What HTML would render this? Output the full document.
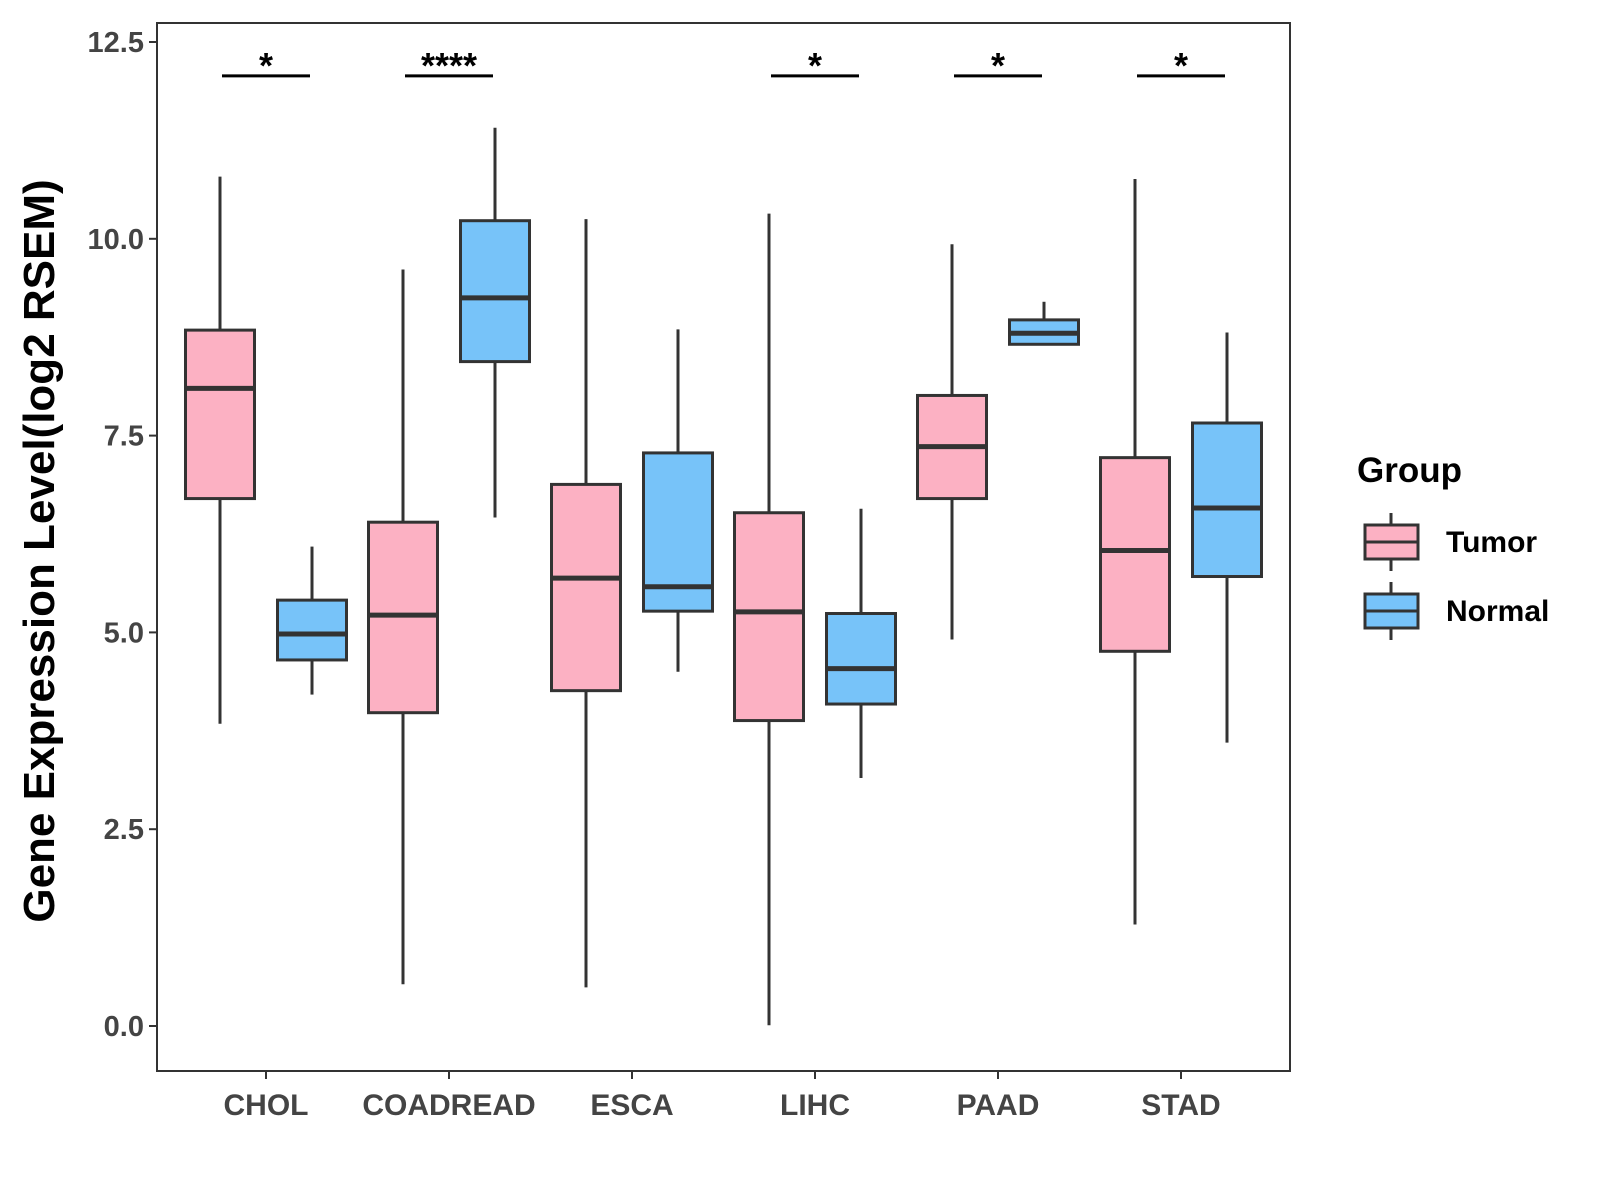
<!DOCTYPE html>
<html><head><meta charset="utf-8"><style>
html,body{margin:0;padding:0;background:#fff;}
svg{display:block;font-family:"Liberation Sans",Arial,sans-serif;}
</style></head><body>
<svg id="chart" width="1600" height="1200" viewBox="0 0 1600 1200" xmlns="http://www.w3.org/2000/svg">
<g id="plot"></g>
</svg>
<script>
const categories = ["CHOL","COADREAD","ESCA","LIHC","PAAD","STAD"];
// [lowWhisker, q1, median, q3, highWhisker]
const tumorStats = [
  [3.84,6.70,8.10,8.84,10.79],
  [0.53,3.98,5.22,6.40,9.61],
  [0.49,4.26,5.69,6.88,10.25],
  [0.01,3.88,5.26,6.52,10.32],
  [4.91,6.70,7.36,8.01,9.93],
  [1.29,4.76,6.04,7.22,10.76]
];
const normalStats = [
  [4.21,4.65,4.98,5.41,6.09],
  [6.46,8.44,9.25,10.23,11.41],
  [4.50,5.27,5.58,7.28,8.85],
  [3.15,4.09,4.54,5.24,6.57],
  [8.66,8.66,8.80,8.97,9.20],
  [3.60,5.71,6.58,7.66,8.81]
];
const sigLabels = ["*","****","","*","*","*"];
const sigValue = 12.07;
const yTicks = [0,2.5,5,7.5,10,12.5];
const yTickLabels = ["0.0","2.5","5.0","7.5","10.0","12.5"];

const NS="http://www.w3.org/2000/svg";
const L=157,T=23,R=1290,B=1071;
const y=v=>1026-v*78.72;
const x=i=>266+i*183;
const g=document.getElementById('plot');
function mk(tag,attrs,parent){const e=document.createElementNS(NS,tag);for(const k in attrs)e.setAttribute(k,attrs[k]);(parent||g).appendChild(e);return e;}

const frame=mk('rect',{x:L,y:T,width:R-L,height:B-T,fill:'none',stroke:'#333',"stroke-width":2});



yTicks.forEach((v,i)=>{
  const t=mk('line',{x1:L-8,x2:L,y1:y(v),y2:y(v),stroke:'#333',"stroke-width":2});
  
  
  const lb=mk('text',{x:L-13,y:y(v)+10,"text-anchor":"end","font-size":29,"font-weight":"bold",fill:'#444'});
  lb.textContent=yTickLabels[i];
  
  
});
categories.forEach((c,i)=>{
  const t=mk('line',{x1:x(i),x2:x(i),y1:B,y2:B+8,stroke:'#333',"stroke-width":2});
  
  
  const lb=mk('text',{x:x(i),y:1115,"text-anchor":"middle","font-size":30,"font-weight":"bold",fill:'#444'});
  lb.textContent=c;
  
  
});

function box(cx,s,fill,name){
  const w=69;
  const grp=mk('g',{});
  
  
  mk('line',{x1:cx,x2:cx,y1:y(s[4]),y2:y(s[3]),stroke:'#333',"stroke-width":3},grp);
  mk('line',{x1:cx,x2:cx,y1:y(s[1]),y2:y(s[0]),stroke:'#333',"stroke-width":3},grp);
  mk('rect',{x:cx-w/2,y:y(s[3]),width:w,height:Math.max(y(s[1])-y(s[3]),0.1),fill:fill,stroke:'#333',"stroke-width":3},grp);
  mk('line',{x1:cx-w/2,x2:cx+w/2,y1:y(s[2]),y2:y(s[2]),stroke:'#333',"stroke-width":5},grp);
}
categories.forEach((c,i)=>{
  box(x(i)-46,tumorStats[i],'#fcb1c3','box-tumor-'+c.toLowerCase());
  box(x(i)+46,normalStats[i],'#77c3f9','box-normal-'+c.toLowerCase());
  if(sigLabels[i]){
    const ln=mk('line',{x1:x(i)-44,x2:x(i)+44,y1:y(sigValue),y2:y(sigValue),stroke:'#000',"stroke-width":3});
    
    
    const st=mk('text',{x:x(i),y:y(sigValue)+2,"text-anchor":"middle","font-size":36,"font-weight":"bold",fill:'#000'});
    st.textContent=sigLabels[i];
    
    
  }
});

const yt=mk('text',{x:0,y:0,transform:'translate(54,551) rotate(-90)',"text-anchor":"middle","font-size":44,"font-weight":"bold",fill:'#000'});
yt.textContent='Gene Expression Level(log2 RSEM)';



const lt=mk('text',{x:1357,y:482,"font-size":35,"font-weight":"bold",fill:'#000'});
lt.textContent='Group';


[['Tumor','#fcb1c3',542],['Normal','#77c3f9',611]].forEach(([n,f,cy])=>{
  const lg=mk('g',{});
  
  
  mk('line',{x1:1391,x2:1391,y1:cy-29,y2:cy+29,stroke:'#333',"stroke-width":3},lg);
  mk('rect',{x:1365,y:cy-17,width:53,height:34,fill:f,stroke:'#333',"stroke-width":3},lg);
  mk('line',{x1:1365,x2:1418,y1:cy,y2:cy,stroke:'#333',"stroke-width":3},lg);
  const t=mk('text',{x:1446,y:cy+10,"font-size":30,"font-weight":"bold",fill:'#000'},lg);
  t.textContent=n;
});
</script>
</body></html>
